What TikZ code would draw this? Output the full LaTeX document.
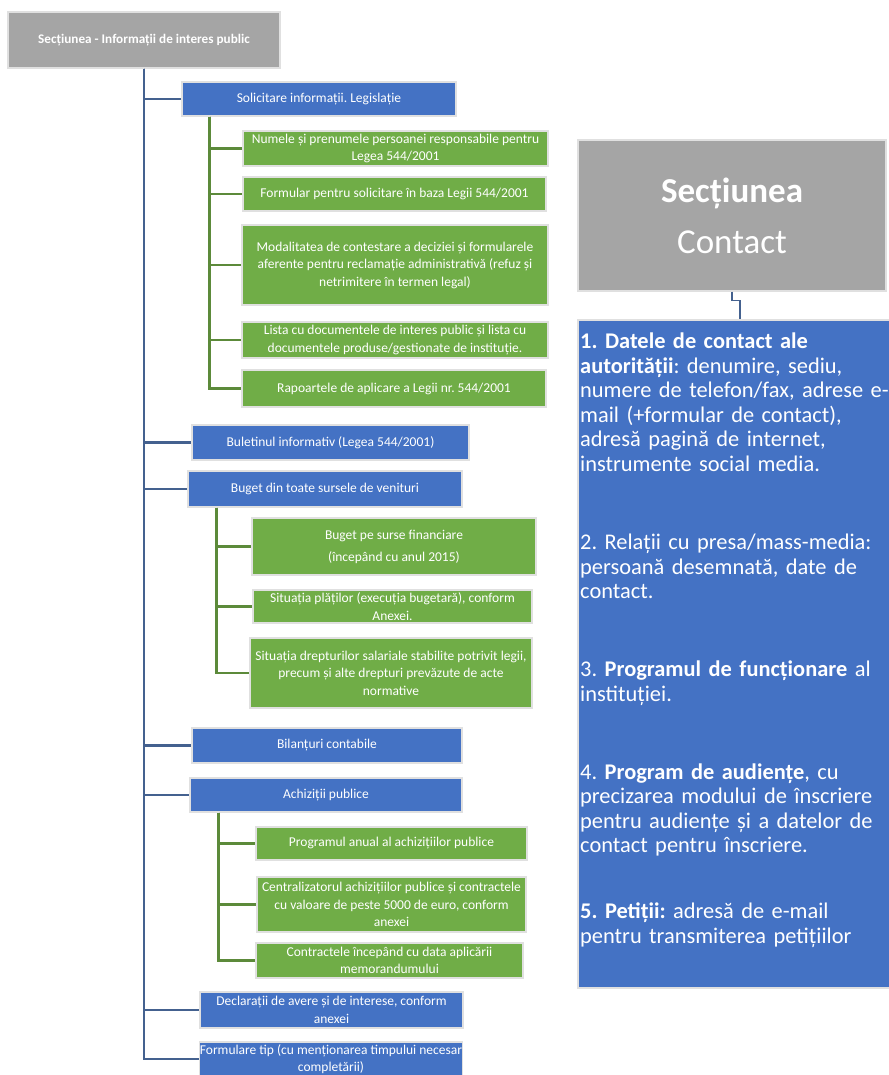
\documentclass[tikz,border=0pt]{standalone}
\usepackage{fontspec}
\setmainfont{Carlito}
\usetikzlibrary{positioning}

\definecolor{boxblue}{HTML}{4472C4}
\definecolor{boxgreen}{HTML}{70AD47}
\definecolor{boxgray}{HTML}{A5A5A5}
\definecolor{trunkblue}{HTML}{44618F}
\definecolor{trunkgreen}{HTML}{5C8A3A}

\begin{document}
\frenchspacing
\begin{tikzpicture}[x=1pt, y=-1pt,
    box/.style={draw=black!12, line width=1.2pt, text=white, align=center,
        inner sep=0pt, font=\fontsize{13.5}{17.5}\selectfont},
    bluebox/.style={box, fill=boxblue},
    greenbox/.style={box, fill=boxgreen},
    graybox/.style={box, fill=boxgray},
    trunk/.style={trunkblue, line width=2.2pt},
    branch/.style={trunkgreen, line width=2.2pt}]
    \useasboundingbox (0,0) rectangle (888,1075);

    % Left tree: root
    \node[graybox, minimum width=272, minimum height=56, font=\fontsize{13.2}{16}\selectfont\bfseries]
        (sec) at (144,40) {Secțiunea - Informații de interes public};

    % Blue boxes
    \node[bluebox, minimum width=274, minimum height=34] (solic) at (319,99)
        {Solicitare informații. Legislație};
    \node[bluebox, minimum width=277, minimum height=35] (bulet) at (330.5,442.5)
        {Buletinul informativ (Legea 544/2001)};
    \node[bluebox, minimum width=274, minimum height=36] (buget) at (325,489)
        {Buget din toate sursele de venituri};
    \node[bluebox, minimum width=270, minimum height=35] (bilant) at (327,745.5)
        {Bilanțuri contabile};
    \node[bluebox, minimum width=272, minimum height=34] (achiz) at (326,795)
        {Achiziții publice};
    \node[bluebox, minimum width=263, minimum height=36] (declar) at (331.5,1010)
        {Declarații de avere și de interese, conform\\anexei};
    \node[bluebox, minimum width=262, minimum height=34] (formtip) at (331,1059)
        {Formulare tip (cu menționarea timpului necesar\\completării)};

    % Green boxes under Solicitare
    \node[greenbox, minimum width=305, minimum height=35] (numele) at (395.5,148.5)
        {Numele și prenumele persoanei responsabile pentru\\Legea 544/2001};
    \node[greenbox, minimum width=303, minimum height=34] (formular) at (394.5,194)
        {Formular pentru solicitare în baza Legii 544/2001};
    \node[greenbox, minimum width=306, minimum height=80] (contest) at (395,265)
        {Modalitatea de contestare a deciziei și formularele\\aferente pentru reclamație administrativă (refuz și\\netrimitere în termen legal)};
    \node[greenbox, minimum width=306, minimum height=36] (lista) at (395,340)
        {Lista cu documentele de interes public și lista cu\\documentele produse/gestionate de instituție.};
    \node[greenbox, minimum width=304, minimum height=37] (rapoarte) at (394,388.5)
        {Rapoartele de aplicare a Legii nr. 544/2001};

    % Green boxes under Buget
    \node[greenbox, minimum width=284, minimum height=57, font=\fontsize{13.5}{22}\selectfont]
        (surse) at (394,546.5) {Buget pe surse financiare\\(începând cu anul 2015)};
    \node[greenbox, minimum width=279, minimum height=33] (plati) at (392.5,606.5)
        {Situația plăților (execuția bugetară), conform\\Anexei.};
    \node[greenbox, minimum width=282, minimum height=70] (drepturi) at (391,673)
        {Situația drepturilor salariale stabilite potrivit legii,\\precum și alte drepturi prevăzute de acte\\normative};

    % Green boxes under Achizitii
    \node[greenbox, minimum width=271, minimum height=33] (anual) at (391.5,843.5)
        {Programul anual al achizițiilor publice};
    \node[greenbox, minimum width=269, minimum height=55] (central) at (391.5,904.5)
        {Centralizatorul achizițiilor publice și contractele\\cu valoare de peste 5000 de euro, conform\\anexei};
    \node[greenbox, minimum width=267, minimum height=35] (contracte) at (389.5,960.5)
        {Contractele începând cu data aplicării\\memorandumului};

    % Trunk and branches
    \foreach \b in {solic, bulet, buget, bilant, achiz, declar, formtip}
        \draw[trunk] (sec.south) |- (\b.west);
    \foreach \g in {numele, formular, contest, lista, rapoarte}
        \draw[branch] ([xshift=28pt]solic.south west) |- (\g.west);
    \foreach \g in {surse, plati, drepturi}
        \draw[branch] ([xshift=29pt]buget.south west) |- (\g.west);
    \foreach \g in {anual, central, contracte}
        \draw[branch] ([xshift=29pt]achiz.south west) |- (\g.west);

    % Right side: Contact
    \node[graybox, minimum width=308, minimum height=151, font=\fontsize{35}{51}\selectfont]
        (contact) at (732,215.5) {\textbf{Secțiunea}\\Contact};
    \node[bluebox, minimum width=324, minimum height=668] (detalii) at (740,654) {};
    \node[anchor=north west, align=left, text width=400pt, inner sep=0pt, text=white,
        font=\fontsize{22.4}{24.5}\selectfont] (detaliitext) at (580,333)
        {\textbf{1. Datele de contact ale}\\
         \textbf{autorității}: denumire, sediu,\\
         numere de telefon/fax, adrese e-\\
         mail (+formular de contact),\\
         adresă pagină de internet,\\
         instrumente social media.\\[53.6pt]
         2. Relații cu presa/mass-media:\\
         persoană desemnată, date de\\
         contact.\\[53.6pt]
         3. \textbf{Programul de funcționare} al\\
         instituției.\\[53.6pt]
         4. \textbf{Program de audiențe}, cu\\
         precizarea modului de înscriere\\
         pentru audiențe și a datelor de\\
         contact pentru înscriere.\\[41.6pt]
         \textbf{5. Petiții:} adresă de e-mail\\
         pentru transmiterea petițiilor};
    \draw[trunk, line width=1.5pt] (contact.south) -- ++(0,9) -| (detalii.north);

\end{tikzpicture}
\end{document}
